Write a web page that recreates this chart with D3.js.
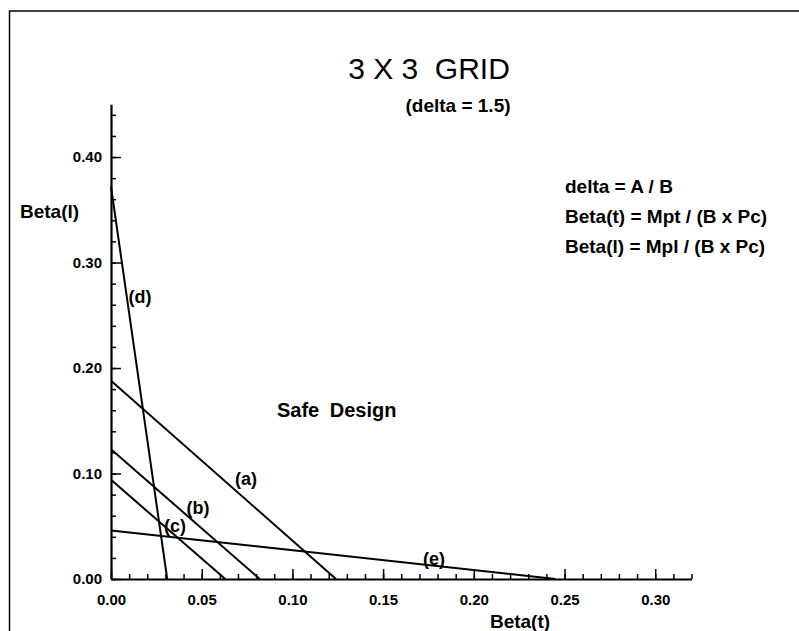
<!DOCTYPE html>
<html>
<head>
<meta charset="utf-8">
<script src="https://cdn.jsdelivr.net/npm/d3@7"></script>
<style>
  body { margin: 0; background: #fff; }
  svg text { font-family: "Liberation Sans", Arial, Helvetica, sans-serif; fill: #000; }
</style>
</head>
<body>
<div id="chart"></div>
<script>
// the five limit lines, each a straight line from the Beta(l) intercept to the Beta(t) intercept
var lineNames   = ["(a)", "(b)", "(c)", "(d)", "(e)"];
var betaLAxis   = [0.188, 0.123, 0.094, 0.372, 0.046];   // value where the line meets Beta(l) axis
var betaTAxis   = [0.124, 0.082, 0.063, 0.031, 0.245];   // value where the line meets Beta(t) axis
var labelBetaT  = [0.0744, 0.048, 0.0353, 0.016, 0.178];
var labelBetaL  = [0.0948, 0.0673, 0.0502, 0.268, 0.0194];

var xMajorTicks = [0.00, 0.05, 0.10, 0.15, 0.20, 0.25, 0.30];
var yMajorTicks = [0.00, 0.10, 0.20, 0.30, 0.40];
var legendLines = ["delta = A / B", "Beta(t) = Mpt / (B x Pc)", "Beta(l) = Mpl / (B x Pc)"];

function renderGrid(){

    var outerWidth = 799, outerHeight = 631;
    var left = 111, right = 691.5, top = 104.3, bottom = 579;

    var x = d3.scaleLinear()
        .domain([0, 0.32])
        .range([left, right]);

    var y = d3.scaleLinear()
        .domain([0, 0.45])
        .range([bottom, top]);

    var xMinor = d3.range(0, 33).map(function(i) { return i / 100; });
    var yMinor = d3.range(0, 23).map(function(i) { return i * 2 / 100; });

    var svg = d3.select("#chart").append("svg")
        .attr("width", outerWidth)
        .attr("height", outerHeight);

    // scanned page frame
    svg.append("path")
        .attr("d", "M9.5," + outerHeight + "V11H" + outerWidth)
        .style("fill", "none")
        .style("stroke", "#000")
        .style("stroke-width", 1.5);

    // minor ticks
    svg.append("g")
        .attr("transform", "translate(0," + bottom + ")")
        .call(d3.axisBottom(x).tickValues(xMinor).tickSize(-5).tickSizeOuter(0).tickFormat(""))
        .call(function(g) { g.select(".domain").remove(); });

    svg.append("g")
        .attr("transform", "translate(" + left + ",0)")
        .call(d3.axisLeft(y).tickValues(yMinor).tickSize(-5).tickSizeOuter(0).tickFormat(""))
        .call(function(g) { g.select(".domain").remove(); });

    // major ticks + labels
    var xAxis = svg.append("g")
        .attr("transform", "translate(0," + bottom + ")")
        .call(d3.axisBottom(x).tickValues(xMajorTicks).tickSize(-10).tickSizeOuter(0)
            .tickPadding(15).tickFormat(d3.format(".2f")));

    var yAxis = svg.append("g")
        .attr("transform", "translate(" + left + ",0)")
        .call(d3.axisLeft(y).tickValues(yMajorTicks).tickSize(-10).tickSizeOuter(0)
            .tickPadding(9).tickFormat(d3.format(".2f")));

    svg.selectAll(".tick line")
        .style("stroke", "#000")
        .style("stroke-width", 1.5);

    svg.selectAll(".domain")
        .style("stroke", "#000")
        .style("stroke-width", 2.2);

    svg.selectAll(".tick text")
        .style("font-size", "15px")
        .style("font-weight", "bold");

    // limit lines
    var line = d3.line()
        .x(function(d) { return x(d[0]); })
        .y(function(d) { return y(d[1]); });

    var lines = lineNames.map(function(name, i) {
        return [[0, betaLAxis[i]], [betaTAxis[i], 0]];
    });

    svg.selectAll(".limit")
        .data(lines)
        .enter().append("path")
        .attr("class", "limit")
        .attr("d", line)
        .style("fill", "none")
        .style("stroke", "#000")
        .style("stroke-width", 2);

    svg.selectAll(".limit-label")
        .data(lineNames)
        .enter().append("text")
        .attr("class", "limit-label")
        .attr("text-anchor", "middle")
        .attr("x", function(d, i) { return x(labelBetaT[i]); })
        .attr("y", function(d, i) { return y(labelBetaL[i]); })
        .attr("dy", "0.35em")
        .style("font-size", "18px")
        .style("font-weight", "bold")
        .text(function(d) { return d; });

    // titles
    svg.append("text")
        .attr("text-anchor", "middle")
        .attr("x", 429)
        .attr("y", 78.5)
        .style("font-size", "30px")
        .style("white-space", "pre")
        .text("3 X 3  GRID");

    svg.append("text")
        .attr("text-anchor", "middle")
        .attr("x", 458)
        .attr("y", 112)
        .style("font-size", "19px")
        .style("font-weight", "bold")
        .text("(delta = 1.5)");

    svg.append("text")
        .attr("x", 277)
        .attr("y", 416.7)
        .style("font-size", "20px")
        .style("font-weight", "bold")
        .style("word-spacing", "5px")
        .text("Safe Design");

    svg.append("text")
        .attr("x", 20)
        .attr("y", 218)
        .style("font-size", "19px")
        .style("font-weight", "bold")
        .text("Beta(l)");

    svg.append("text")
        .attr("text-anchor", "middle")
        .attr("x", 520)
        .attr("y", 628)
        .style("font-size", "19px")
        .style("font-weight", "bold")
        .text("Beta(t)");

    svg.selectAll(".legend")
        .data(legendLines)
        .enter().append("text")
        .attr("class", "legend")
        .attr("x", 565)
        .attr("y", function(d, i) { return 192.5 + i * 30; })
        .style("font-size", "19px")
        .style("font-weight", "bold")
        .text(function(d) { return d; });
}

renderGrid()
</script>
</body>
</html>
